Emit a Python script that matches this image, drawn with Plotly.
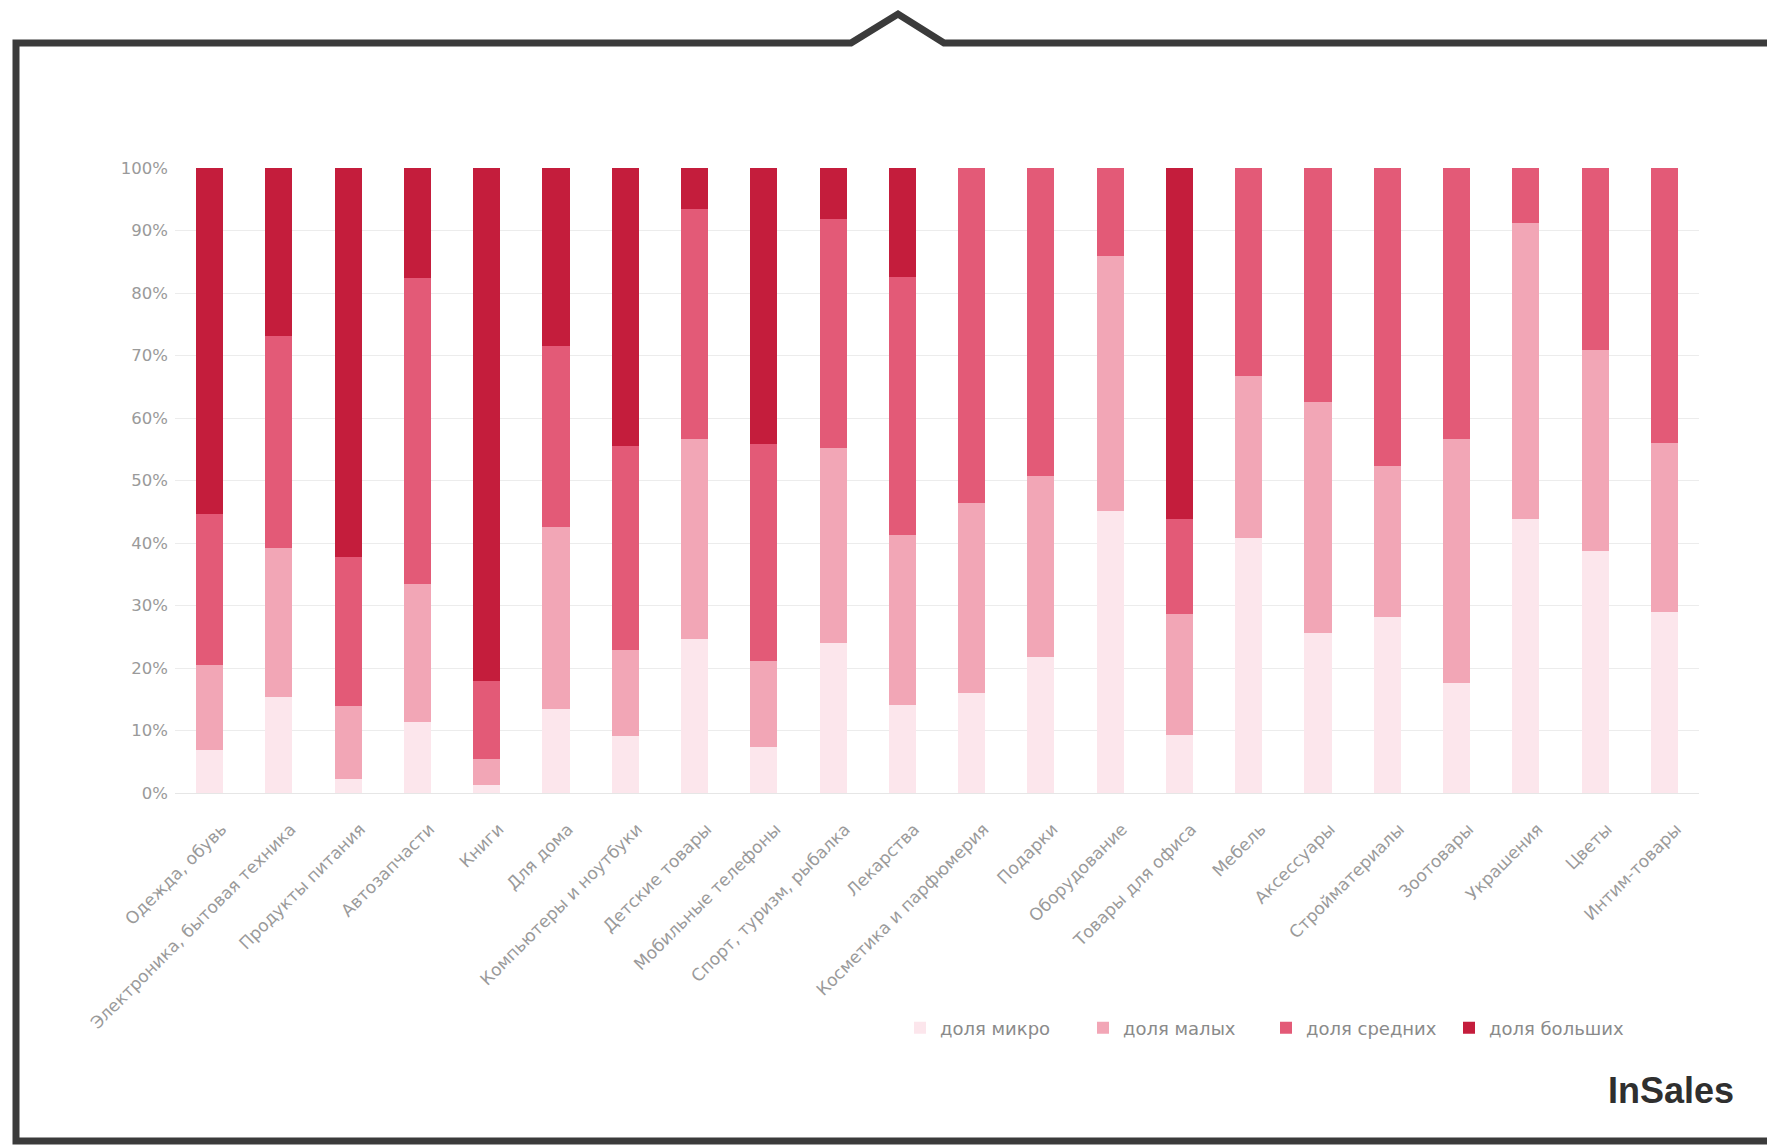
import plotly.graph_objects as go

categories = ["Одежда, обувь", "Электроника, бытовая техника", "Продукты питания", "Автозапчасти",
              "Книги", "Для дома", "Компьютеры и ноутбуки", "Детские товары", "Мобильные телефоны",
              "Спорт, туризм, рыбалка", "Лекарства", "Косметика и парфюмерия", "Подарки", "Оборудование",
              "Товары для офиса", "Мебель", "Аксессуары", "Стройматериалы", "Зоотовары", "Украшения",
              "Цветы", "Интим-товары"]

micro  = [6.9, 15.3, 2.2, 11.4, 1.3, 13.5, 9.1, 24.7, 7.4, 24.0, 14.1, 16.0, 21.7, 45.2, 9.3, 40.8, 25.6, 28.1, 17.6, 43.9, 38.8, 28.9]
small  = [13.6, 23.9, 11.8, 22.0, 4.2, 29.0, 13.8, 32.0, 13.8, 31.2, 27.2, 30.4, 29.0, 40.7, 19.3, 25.9, 37.0, 24.3, 39.1, 47.3, 32.1, 27.1]
medium = [24.2, 33.9, 23.8, 49.0, 12.5, 29.0, 32.6, 36.7, 34.7, 36.6, 41.3, 53.6, 49.3, 14.1, 15.3, 33.3, 37.4, 47.6, 43.3, 8.8, 29.1, 44.0]
large  = [55.3, 26.9, 62.2, 17.6, 82.0, 28.5, 44.5, 6.6, 44.1, 8.2, 17.4, 0, 0, 0, 56.1, 0, 0, 0, 0, 0, 0, 0]

series_names = ["доля микро", "доля малых", "доля средних", "доля больших"]
series_colors = ["#fce6ec", "#f2a6b6", "#e35a77", "#c41d3c"]

y_ticks = [0, 10, 20, 30, 40, 50, 60, 70, 80, 90, 100]
y_ticklabels = [f"{v}%" for v in y_ticks]

W, H = 1767, 1145
L, R, T, B = 175, 68, 168, 352
PW, PH = W - L - R, H - T - B


def px(x, y):
    return (x - L) / PW, (H - B - y) / PH


fig = go.Figure()
for name, vals, col in zip(series_names, [micro, small, medium, large], series_colors):
    fig.add_trace(go.Bar(x=categories, y=vals, name=name, marker=dict(color=col, line=dict(width=0)),
                         width=0.39))

# frame
pts = [(1790, 1141), (16, 1141), (16, 43), (851, 43), (898, 14), (944, 43), (1790, 43)]
path = "M " + " L ".join(f"{px(a, b)[0]:.5f},{px(a, b)[1]:.5f}" for a, b in pts)
fig.add_shape(type="path", path=path, xref="paper", yref="paper",
              line=dict(color="#3b3b3b", width=7), fillcolor="rgba(0,0,0,0)")

lx, ly = px(1736, 1090)
fig.add_annotation(text="<b>InSales</b>", xref="paper", yref="paper", x=lx, y=ly,
                   xanchor="right", yanchor="middle", showarrow=False,
                   font=dict(family="Liberation Sans, Arial, sans-serif", size=36, color="#2f2f2f"))

legx, legy = px(900, 1028)
fig.update_layout(
    width=W, height=H,
    margin=dict(l=L, r=R, t=T, b=B),
    barmode="stack",
    plot_bgcolor="white", paper_bgcolor="white",
    font=dict(family="DejaVu Sans, sans-serif", color="#9a9a9a", size=15),
    showlegend=True,
    legend=dict(orientation="h", x=legx, y=legy, xanchor="left", yanchor="middle",
                font=dict(size=18, color="#8a8a8a"), entrywidth=138, entrywidthmode="pixels",
                traceorder="normal"),
    xaxis=dict(tickangle=-45, tickfont=dict(size=17, color="#9a9a9a"), showgrid=False,
               showline=False, ticks="", range=[-0.5, len(categories) - 0.5],
               ticklabelstandoff=22, ticklabelshift=12),
    yaxis=dict(range=[0, 100], tickvals=y_ticks, ticktext=y_ticklabels, showgrid=True,
               gridcolor="#ececec", gridwidth=1, zeroline=True, zerolinecolor="#e6e6e6",
               zerolinewidth=1, tickfont=dict(size=16.5, color="#9a9a9a"), ticks="", ticklen=0,
               showline=False, automargin=False, ticklabelstandoff=6),
)
fig.update_xaxes(automargin=False)

fig.write_html("out.html", post_script="document.body.style.margin='0';",
               config={"displayModeBar": False})
